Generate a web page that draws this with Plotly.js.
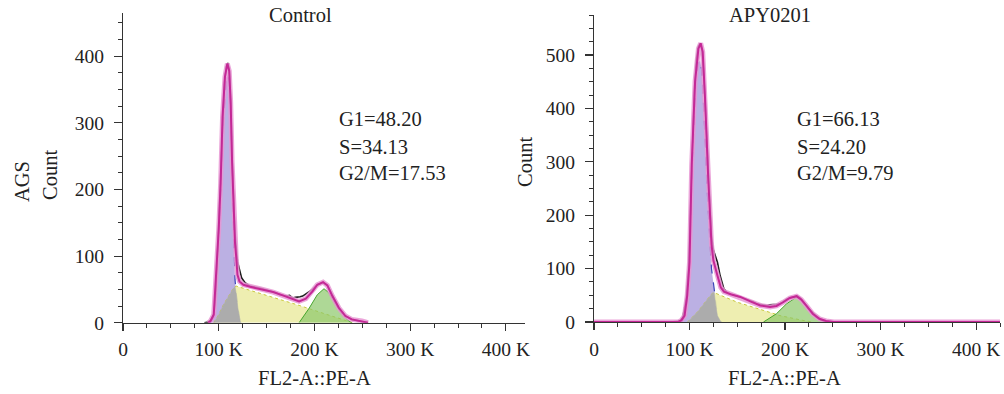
<!DOCTYPE html>
<html>
<head>
<meta charset="utf-8">
<script src="https://cdn.plot.ly/plotly-3.0.1.min.js"></script>
<style>html,body{margin:0;padding:0;background:#fff;}#chart{width:1004px;height:394px;}</style>
</head>
<body>
<div id="chart"></div>
<script>
// ---- Data (x in thousands of FL2-A::PE-A units, y = Count) ----
const panelTitles = ["Control", "APY0201"];
const xTickVals = [0, 100, 200, 300, 400];
const xTickText = ["0", "100 K", "200 K", "300 K", "400 K"];
const statsControl = ["G1=48.20", "S=34.13", "G2/M=17.53"];
const statsAPY = ["G1=66.13", "S=24.20", "G2/M=9.79"];

// Control
const ctlTotalX = [89,91.4,94.8,96.6,98.3,100,102,104,106.5,108,109,111,112.5,114,115.5,117,118.2,119.6,121.7,125.8,132.7,143,156.8,167,175.7,184,191,198,203,209,213.5,218.7,225.6,232.4,239,249.6,256];
const ctlTotalY = [0,2.5,12,52,102,140,209,309,369,385,389,378,330,240,170,120,100,72,62,57,54,51,46,41,36,32,36,47,57,61,56,40,22,10,5,2.5,0];
const ctlDataX = [85,89,92,95,97,98.5,100,102,104,106,108,109.5,111,112.5,114,115.5,117,118.5,119.6,121.7,124,127.5,132.7,143,150,156.8,160,163.6,167,170.5,174,177.4,180,182.6,185,187.7,193,198,203,209,213.5,218.7,225,232,239,249,256];
const ctlDataY = [0,1,4,14,45,100,150,220,310,360,385,390,380,335,250,180,135,110,92,80,67,60,55,52,49,47,45,42,41,40,41,37,38,38,39,40,45,50,57,60,56,41,24,11,5,2,0];
const ctlG1X = [91,94.8,96.6,98.3,100,102,104,106.5,108,109.5,111,112.5,114,115.5,117,118.5,120,121.5,122.5,123.5];
const ctlG1Y = [0,8,45,90,125,190,285,345,368,372,360,310,220,130,65,42,22,8,2,0];
const ctlSX = [94.8,100,105,110,115.5,118.2,125,150,184,218,240];
const ctlSY = [0,12,27,40,52,55,52,42,26,10,0];
const ctlG2X = [184,194.6,203,210,215,222,229,236,239];
const ctlG2Y = [0,22,42,51,45,27,12,2.5,0];
const ctlOvX = [94.8,100,105,110,115.5,117,118.5,120,121.5,122.5,123.5];
const ctlOvY = [0,12,27,40,52,54,42,22,8,2,0];

// APY0201
const apyTotalX = [0,88,91.4,94.8,97.6,100,102.3,105.8,109.3,111.7,113.8,116.2,119.7,121,123,125,127,129.2,132.7,136,143,153.3,163.6,174,184.3,191,198,205,212,217,222,229,236,243,251,425];
const apyTotalY = [0,0,3,12,50,112,295,450,512,522,506,420,264,205,145,115,100,87,65,57,52,47,38.5,31,28,30,37,45,48.4,42,31,15.5,6,2,0,0];
const apyDataX = [80,84.5,89.7,93,96.5,99,101,103,105,107,109,111,113,115,117,119,121,123,125,127.5,129.2,132,136,140,145,150,155,160,163.6,167,170.5,174,178,181,184,187.7,191,194.6,198,202,206,210,213,216,220,224,228,232,236,240,245,250];
const apyDataY = [0,0.5,2,9,43,100,200,330,430,490,515,522,510,460,380,290,210,160,135,120,112,87,62,54,51,48,46,42,40,38,34,33,32,31,32,32,33,34,38,43,46,48,49,45,36,26,17,10,5,2,1,0];
const apyG1X = [92,95,97.6,99,100.5,102.5,104.5,106.5,109,111,113,115,117,119,121,123,125.8,127.5,129.2,132,133.5];
const apyG1Y = [0,10,40,95,150,270,380,450,485,490,470,400,320,230,150,100,62,31,12,2,0];
const apySX = [98,108.6,119,124,125.8,150,177,194.6,218.7,229];
const apySY = [0,19,43,54,55,37,22,12,3,0];
const apyG2X = [177.4,191,201.5,212,217,225.6,236,243];
const apyG2Y = [0,15.5,34,46.6,43,25,7.5,0];
const apyOvX = [98,108.6,119,124,125.8,126.5,127.5,129.2,132,133.5];
const apyOvY = [0,19,43,54,55,48,31,12,2,0];

// ---- Styles ----
const FONT = "Liberation Serif, Times New Roman, serif";
const C = {
  g1Fill: "rgba(183,172,226,0.95)", g1Line: "rgb(60,70,185)",
  sFill: "rgba(236,236,168,0.9)", sLine: "rgb(200,200,60)",
  g2Fill: "rgba(140,200,105,0.7)", g2Line: "rgb(70,165,45)",
  ov: "rgb(172,172,172)", data: "#1e1e1e",
  glow: "rgba(232,150,212,0.85)", fit: "rgb(196,40,150)"
};

function panel(xa, ya, d) {
  return [
    {x: d.g1x, y: d.g1y, xaxis: xa, yaxis: ya, type: "scatter", mode: "lines", fill: "tozeroy", fillcolor: C.g1Fill, line: {color: C.g1Line, width: 1.2, dash: "dash"}},
    {x: d.sx, y: d.sy, xaxis: xa, yaxis: ya, type: "scatter", mode: "lines", fill: "tozeroy", fillcolor: C.sFill, line: {color: C.sLine, width: 1, dash: "dot"}},
    {x: d.ovx, y: d.ovy, xaxis: xa, yaxis: ya, type: "scatter", mode: "lines", fill: "tozeroy", fillcolor: C.ov, line: {color: C.ov, width: 0.5}},
    {x: d.g2x, y: d.g2y, xaxis: xa, yaxis: ya, type: "scatter", mode: "lines", fill: "tozeroy", fillcolor: C.g2Fill, line: {color: C.g2Line, width: 1}},
    {x: d.dx, y: d.dy, xaxis: xa, yaxis: ya, type: "scatter", mode: "lines", line: {color: C.data, width: 1.6}},
    {x: d.tx, y: d.ty, xaxis: xa, yaxis: ya, type: "scatter", mode: "lines", line: {color: C.glow, width: 5}},
    {x: d.tx, y: d.ty, xaxis: xa, yaxis: ya, type: "scatter", mode: "lines", line: {color: C.fit, width: 2}}
  ];
}

const traces = [].concat(
  panel("x", "y", {g1x: ctlG1X, g1y: ctlG1Y, sx: ctlSX, sy: ctlSY, ovx: ctlOvX, ovy: ctlOvY, g2x: ctlG2X, g2y: ctlG2Y, dx: ctlDataX, dy: ctlDataY, tx: ctlTotalX, ty: ctlTotalY}),
  panel("x2", "y2", {g1x: apyG1X, g1y: apyG1Y, sx: apySX, sy: apySY, ovx: apyOvX, ovy: apyOvY, g2x: apyG2X, g2y: apyG2Y, dx: apyDataX, dy: apyDataY, tx: apyTotalX, ty: apyTotalY})
);

const tickFont = {family: FONT, size: 19.5, color: "#222"};
function xAxis(domain, range, anchor) {
  return {
    domain: domain, range: range, anchor: anchor,
    tickmode: "array", tickvals: xTickVals, ticktext: xTickText,
    showline: true, linecolor: "#333", linewidth: 1.2,
    ticks: "outside", ticklen: 7, tickcolor: "#333", tickwidth: 1.2,
    minor: {tickmode: "linear", tick0: 0, dtick: 25, ticks: "outside", ticklen: 4, tickcolor: "#333", tickwidth: 1},
    showgrid: false, zeroline: false, tickfont: tickFont, ticklabelstandoff: 2, fixedrange: true
  };
}
function yAxis(domain, range, anchor) {
  return {
    domain: domain, range: range, anchor: anchor,
    tickmode: "linear", tick0: 0, dtick: 100,
    showline: true, linecolor: "#333", linewidth: 1.2,
    ticks: "outside", ticklen: 8, tickcolor: "#333", tickwidth: 1.2,
    minor: {tickmode: "linear", tick0: 0, dtick: 25, ticks: "outside", ticklen: 4, tickcolor: "#333", tickwidth: 1},
    showgrid: false, zeroline: false, tickfont: tickFont, ticklabelstandoff: 6, fixedrange: true
  };
}

const W = 1004, H = 394;
function ann(text, px, py, opts) {
  return Object.assign({text: text, xref: "paper", yref: "paper", x: px / W, y: 1 - py / H,
    xanchor: "center", yanchor: "middle", showarrow: false,
    font: {family: FONT, size: 20.5, color: "#222"}}, opts || {});
}

const annotations = [
  ann(panelTitles[0], 300, 15),
  ann(panelTitles[1], 770, 15),
  ann("AGS", 22, 182, {textangle: -90}),
  ann("Count", 50, 175, {textangle: -90}),
  ann("Count", 525, 162, {textangle: -90}),
  ann("FL2-A::PE-A", 314, 378),
  ann("FL2-A::PE-A", 784, 378)
];
statsControl.forEach((t, i) => annotations.push(ann(t, 337, [119, 147, 173][i], {xanchor: "left"})));
statsAPY.forEach((t, i) => annotations.push(ann(t, 795, [119, 147, 173][i], {xanchor: "left"})));

const layout = {
  width: W, height: H,
  margin: {l: 0, r: 0, t: 0, b: 0},
  paper_bgcolor: "#fff", plot_bgcolor: "rgba(0,0,0,0)",
  showlegend: false,
  font: {family: FONT, color: "#222"},
  xaxis: xAxis([123 / W, 525 / W], [0, 420], "y"),
  yaxis: yAxis([71.3 / H, 381 / H], [0, 465], "x"),
  xaxis2: xAxis([594 / W, 1000 / W], [0, 425], "y2"),
  yaxis2: yAxis([72 / H, 379 / H], [0, 575], "x2"),
  annotations: annotations
};

Plotly.newPlot("chart", traces, layout, {displayModeBar: false, staticPlot: true});
</script>
</body>
</html>
